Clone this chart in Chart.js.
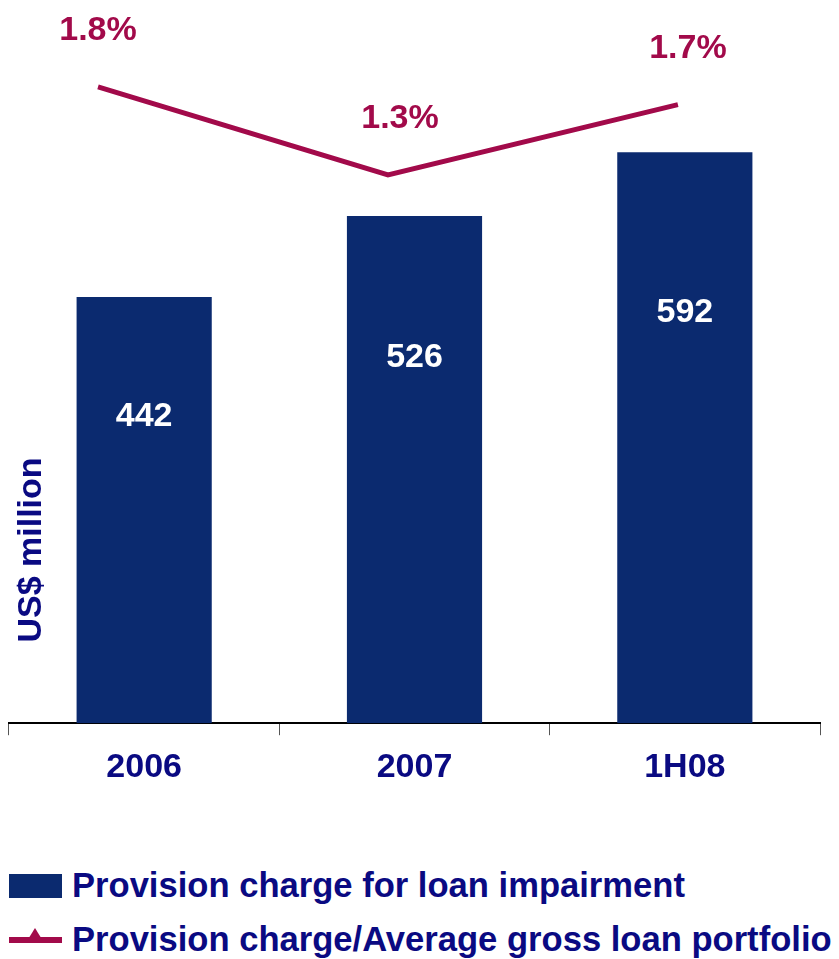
<!DOCTYPE html>
<html>
<head>
<meta charset="utf-8">
<script src="https://cdn.jsdelivr.net/npm/chart.js@4"></script>
<style>
  body { margin: 0; background: #fff; font-family: "Liberation Sans", Arial, sans-serif; }
  #wrap { position: relative; width: 839px; height: 959px; }
  .leg { position: absolute; left: 9px; display: flex; align-items: center; font-weight: bold; font-size: 34.6px; color: #0a0a82; white-space: nowrap; }
  .box { width: 53px; height: 24px; background: #0b2a6f; margin-right: 10px; }
  .ln { position: relative; width: 53px; height: 6px; background: #a20a4a; margin-right: 10px; }
  .ln:after { content: ""; position: absolute; left: 18px; top: -9px; border-left: 8px solid transparent; border-right: 8px solid transparent; border-bottom: 13px solid #a20a4a; }
</style>
</head>
<body>
<div id="wrap">
  <canvas id="chart" width="839" height="810"></canvas>
  <div class="leg" style="top:866px"><div class="box"></div>Provision charge for loan impairment</div>
  <div class="leg" style="top:920px"><div class="ln"></div>Provision charge/Average gross loan portfolio</div>
</div>
<script>
const categories = ['2006', '2007', '1H08'];
const provisionCharge = [442, 526, 592];
const provisionRatio = [1.8, 1.3, 1.7];

const navy = '#0b2a6f';
const crimson = '#a20a4a';
const textNavy = '#0a0a82';

const labelPlugin = {
    id: 'labels',
    afterDatasetsDraw(chart) {
        const ctx = chart.ctx;
        const y = chart.scales.y;
        ctx.save();
        ctx.font = 'bold 34px "Liberation Sans", Arial';
        ctx.textAlign = 'center';
        ctx.textBaseline = 'middle';
        // values inside the bars
        chart.getDatasetMeta(0).data.forEach((bar, i) => {
            ctx.fillStyle = '#ffffff';
            ctx.fillText(provisionCharge[i], bar.x, y.getPixelForValue(provisionCharge[i] * 0.72));
        });
        // percentages above the line
        const shift = [0, 12, 10];
        chart.getDatasetMeta(1).data.forEach((pt, i) => {
            ctx.fillStyle = crimson;
            ctx.fillText(provisionRatio[i].toFixed(1) + '%', pt.x + shift[i], pt.y - 56);
        });
        // y axis title
        ctx.fillStyle = textNavy;
        ctx.translate(32, 550);
        ctx.rotate(-Math.PI / 2);
        ctx.fillText('US$ million', 0, 0);
        ctx.restore();
    }
};

new Chart(document.getElementById('chart'), {
    type: 'bar',
    data: {
        labels: categories,
        datasets: [{
            type: 'bar',
            label: 'Provision charge for loan impairment',
            data: provisionCharge,
            backgroundColor: navy,
            barPercentage: 0.5,
            categoryPercentage: 1,
            grouped: false,
            order: 2
        }, {
            type: 'line',
            label: 'Provision charge/Average gross loan portfolio',
            data: provisionRatio.map((v, i) => ({ x: i, y: v })),
            xAxisID: 'x2',
            yAxisID: 'y2',
            borderColor: crimson,
            borderWidth: 5,
            pointRadius: 0,
            fill: false,
            order: 1
        }]
    },
    options: {
        responsive: false,
        devicePixelRatio: 1,
        animation: false,
        layout: { padding: { left: 9, right: 19, top: 0, bottom: 10 } },
        plugins: { legend: { display: false }, tooltip: { enabled: false } },
        scales: {
            x: {
                grid: { drawOnChartArea: false, color: '#555', tickLength: 12 },
                border: { color: '#000', width: 2 },
                ticks: { color: textNavy, font: { family: '"Liberation Sans", Arial', size: 34, weight: 'bold' }, padding: 12 }
            },
            x2: { type: 'linear', display: false, offset: false, min: -0.307, max: 2.49 },
            y: { display: false, min: 0, max: 750 },
            y2: { display: false, min: -1.814, max: 2.294 }
        }
    },
    plugins: [labelPlugin]
});
</script>
</body>
</html>
